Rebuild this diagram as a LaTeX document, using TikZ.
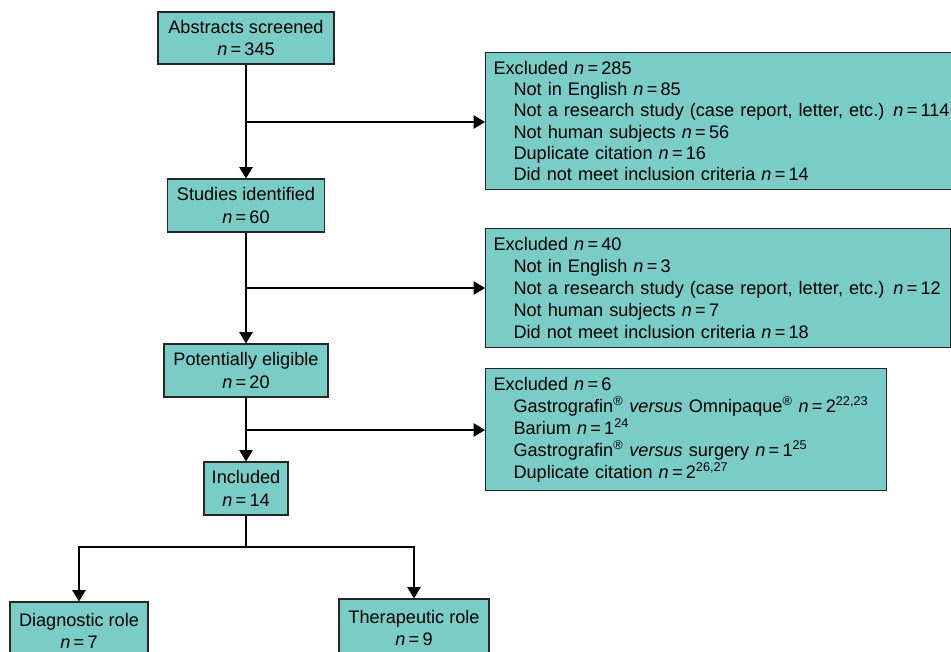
\documentclass[tikz,border=0pt]{standalone}
\usepackage{fontspec}
\setmainfont{Liberation Sans}
\usetikzlibrary{arrows.meta, positioning, calc}
\definecolor{boxteal}{RGB}{122,204,199}
\newcommand{\nval}[1]{\textit{n}\hspace{0.18em}=\hspace{0.18em}#1}
\newcommand{\ind}{\hspace*{15pt}}
\newcommand{\reg}{\textsuperscript{®}}

\tikzset{
    stage/.style={draw=black!85, fill=boxteal, line width=0.8pt, align=center,
        inner sep=3pt, font=\fontsize{13.6}{17}\selectfont},
    excl/.style={stage, anchor=north west, align=left, inner xsep=6pt,
        font=\fontsize{13.6}{16}\selectfont},
    flow/.style={-{Triangle[width=10pt,length=8.5pt]}, line width=0.9pt}
}

\begin{document}
\begin{tikzpicture}[x=0.75pt, y=-0.75pt]
    \useasboundingbox[fill=white] (0,0) rectangle (951,651);

    % main column
    \node[stage, minimum width=132pt, minimum height=39pt] (abs) at (246,38) {Abstracts screened\\\nval{345}};
    \node[stage, minimum width=117.75pt, minimum height=39.75pt] (stu) at (246,205.5) {Studies identified\\\nval{60}};
    \node[stage, minimum width=123pt, minimum height=39.75pt] (pot) at (246,370.5) {Potentially eligible\\\nval{20}};
    \node[stage, minimum width=63pt, minimum height=39.75pt] (inc) at (246,488.5) {Included\\\nval{14}};
    \node[stage, minimum width=103.5pt, minimum height=43.5pt] (diag) at (79,631) {Diagnostic role\\\nval{7}};
    \node[stage, minimum width=112.5pt, minimum height=43.5pt] (ther) at (414,628) {Therapeutic role\\\nval{9}};

    % exclusion boxes
    \node[excl, text width=355.5pt, minimum height=102.75pt] (ex1) at (485,52) {Excluded \nval{285}\\
        \ind Not in English \nval{85}\\
        \ind Not a research study (case report, letter, etc.) \nval{114}\\
        \ind Not human subjects \nval{56}\\
        \ind Duplicate citation \nval{16}\\
        \ind Did not meet inclusion criteria \nval{14}};
    \node[excl, text width=336.75pt, minimum height=89.25pt,
        font=\fontsize{13.6}{16.5}\selectfont] (ex2) at (485,228) {Excluded \nval{40}\\
        \ind Not in English \nval{3}\\
        \ind Not a research study (case report, letter, etc.) \nval{12}\\
        \ind Not human subjects \nval{7}\\
        \ind Did not meet inclusion criteria \nval{18}};
    \node[excl, text width=288.75pt, minimum height=91.5pt,
        font=\fontsize{13.6}{16.5}\selectfont] (ex3) at (485,368) {Excluded \nval{6}\\
        \ind Gastrografin\reg{} \textit{versus} Omnipaque\reg{} \nval{2\textsuperscript{22,23}}\\
        \ind Barium \nval{1\textsuperscript{24}}\\
        \ind Gastrografin\reg{} \textit{versus} surgery \nval{1\textsuperscript{25}}\\
        \ind Duplicate citation \nval{2\textsuperscript{26,27}}};

    % branch points
    \coordinate (b1) at (246,122);
    \coordinate (b2) at (246,288);
    \coordinate (b3) at (246,430);
    \coordinate (b4) at (246,547);

    \draw[flow] (abs) -- (stu);
    \draw[flow] (stu) -- (pot);
    \draw[flow] (pot) -- (inc);
    \draw[flow] (b1) -- (b1 -| ex1.west);
    \draw[flow] (b2) -- (b2 -| ex2.west);
    \draw[flow] (b3) -- (b3 -| ex3.west);
    \draw[line width=0.9pt] (inc) -- (b4);
    \draw[flow] (b4) -| (diag);
    \draw[flow] (b4) -| (ther);
\end{tikzpicture}
\end{document}
